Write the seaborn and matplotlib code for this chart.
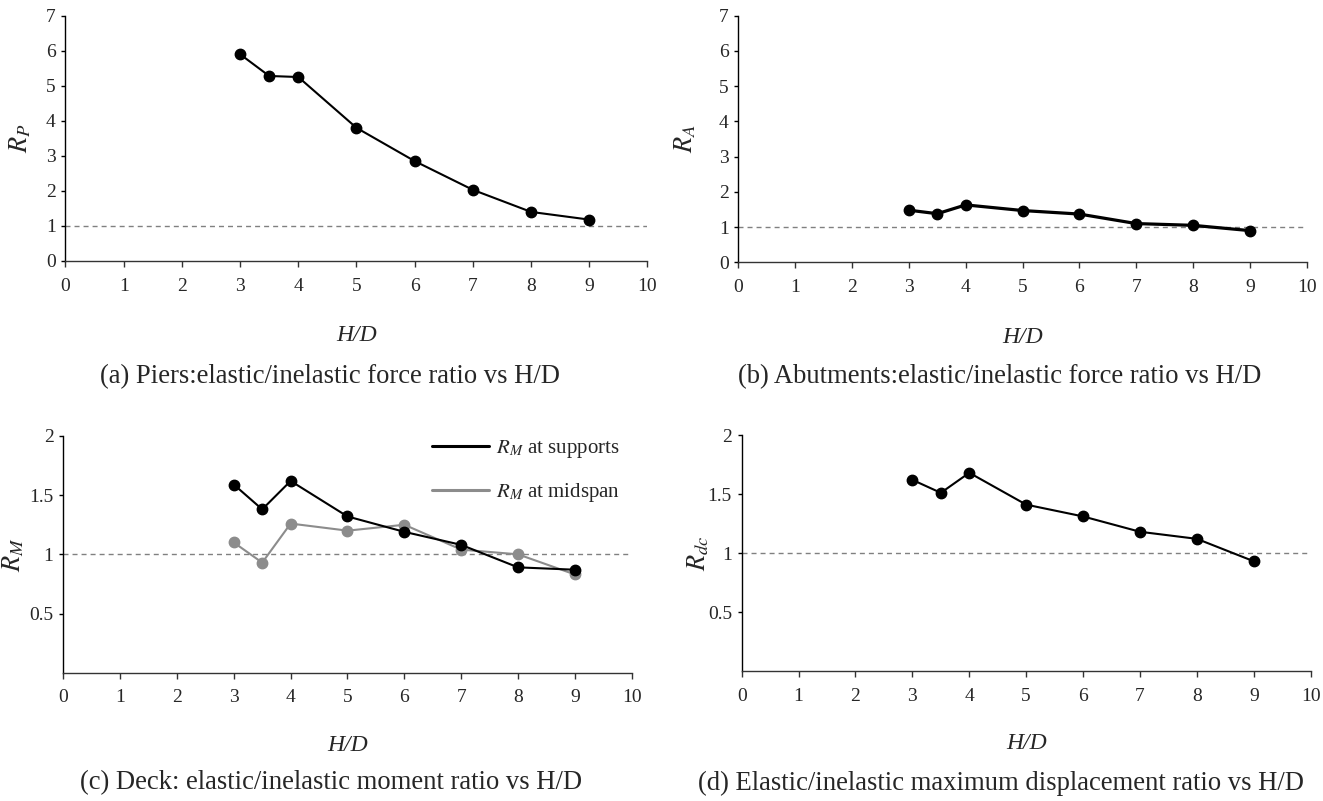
import pandas as pd
import matplotlib
matplotlib.use("Agg")
import matplotlib.pyplot as plt
from matplotlib.lines import Line2D
import seaborn as sns

sns.set_style("white")
plt.rcParams['font.family'] = ['Liberation Serif', 'DejaVu Serif']
plt.rcParams['mathtext.fontset'] = 'stix'

# data
hd = [3, 3.5, 4, 5, 6, 7, 8, 9]
rp = [5.9, 5.28, 5.25, 3.8, 2.85, 2.03, 1.4, 1.18]
ra = [1.48, 1.38, 1.63, 1.47, 1.37, 1.1, 1.05, 0.9]
rm_supports = [1.59, 1.38, 1.62, 1.32, 1.19, 1.08, 0.89, 0.87]
rm_midspan = [1.1, 0.93, 1.26, 1.2, 1.25, 1.04, 1.0, 0.83]
rdc = [1.62, 1.51, 1.68, 1.41, 1.31, 1.18, 1.12, 0.93]

captions = ["(a) Piers:elastic/inelastic force ratio vs H/D",
            "(b) Abutments:elastic/inelastic force ratio vs H/D",
            "(c) Deck: elastic/inelastic moment ratio vs H/D",
            "(d) Elastic/inelastic maximum displacement ratio vs H/D"]
ylabels = [r"$R_P$", r"$R_A$", r"$R_M$", r"$R_{dc}$"]
big_ticks = [0, 1, 2, 3, 4, 5, 6, 7]
small_ticks = [0.5, 1, 1.5, 2]
small_labels = ["0.5", "1", "1.5", "2"]

fig = plt.figure(figsize=(13.23, 8.01), dpi=100)
boxes = [[0.0495, 0.6742, 0.4399, 0.3062],
         [0.5581, 0.6725, 0.4296, 0.3079],
         [0.0478, 0.1602, 0.4297, 0.2955],
         [0.5606, 0.1623, 0.4301, 0.2946]]
axes = [fig.add_axes(b) for b in boxes]
ylab_x = [-0.056, -0.071, -0.066, -0.054]

GREY = '#8c8c8c'


def style(ax, ymax, yticks, yticklabels, ylab, lx):
    ax.set_xlim(0, 10)
    ax.set_ylim(0, ymax)
    ax.set_xticks(range(0, 11))
    ax.set_yticks(yticks)
    ax.set_yticklabels(yticklabels)
    ax.axhline(1, color='#808080', ls=(0, (3.6, 2.9)), lw=1, zorder=0)
    sns.despine(ax=ax)
    ax.spines['left'].set_color('black')
    ax.spines['bottom'].set_color('#333333')
    for s in ['left', 'bottom']:
        ax.spines[s].set_linewidth(1)
    ax.tick_params(axis='x', direction='out', length=4, width=1,
                   color='#333333', labelsize=14, bottom=True, pad=8)
    ax.tick_params(axis='y', direction='out', length=3, width=1,
                   color='black', labelsize=14, left=True, pad=4)
    ax.set_xlabel("H/D", fontsize=17, style='italic')
    ax.xaxis.set_label_coords(0.5, -0.262)
    ax.set_ylabel(ylab, fontsize=19)
    ax.yaxis.set_label_coords(lx, 0.5)


df_a = pd.DataFrame({"H/D": hd, "R": rp})
df_b = pd.DataFrame({"H/D": hd, "R": ra})
df_d = pd.DataFrame({"H/D": hd, "R": rdc})
df_c = pd.DataFrame({"H/D": hd + hd,
                     "R": rm_supports + rm_midspan,
                     "series": ["sup"] * len(hd) + ["mid"] * len(hd)})

mk = dict(marker='o', markersize=7.5, markeredgewidth=1)
sns.lineplot(data=df_a, x="H/D", y="R", ax=axes[0], color='black', lw=1.5,
             markeredgecolor='black', **mk)
sns.lineplot(data=df_b, x="H/D", y="R", ax=axes[1], color='black', lw=2.3,
             markeredgecolor='black', **mk)
sns.lineplot(data=df_c[df_c.series == "mid"], x="H/D", y="R", ax=axes[2],
             color=GREY, lw=1.5, markeredgecolor=GREY, **mk)
sns.lineplot(data=df_c[df_c.series == "sup"], x="H/D", y="R", ax=axes[2],
             color='black', lw=1.5, markeredgecolor='black', **mk)
sns.lineplot(data=df_d, x="H/D", y="R", ax=axes[3], color='black', lw=1.5,
             markeredgecolor='black', **mk)

style(axes[0], 7, big_ticks, [str(v) for v in big_ticks], ylabels[0], ylab_x[0])
style(axes[1], 7, big_ticks, [str(v) for v in big_ticks], ylabels[1], ylab_x[1])
style(axes[2], 2, small_ticks, small_labels, ylabels[2], ylab_x[2])
style(axes[3], 2, small_ticks, small_labels, ylabels[3], ylab_x[3])

handles = [Line2D([], [], color='black', lw=2.2),
           Line2D([], [], color=GREY, lw=2.2)]
axes[2].legend(handles, [r"$R_M$ at supports", r"$R_M$ at midspan"],
               loc='upper right', frameon=False, fontsize=15,
               handlelength=2.75, handletextpad=0.35, labelspacing=1.0,
               borderpad=0, borderaxespad=0, bbox_to_anchor=(0.98, 0.99))

cap_pos = [(0.2494, 0.5296), (0.7559, 0.5296), (0.2502, 0.0225), (0.7566, 0.0225)]
for (x, y), t in zip(cap_pos, captions):
    fig.text(x, y, t, ha='center', va='center', fontsize=19.2)

fig.savefig("out.png", dpi=100)
